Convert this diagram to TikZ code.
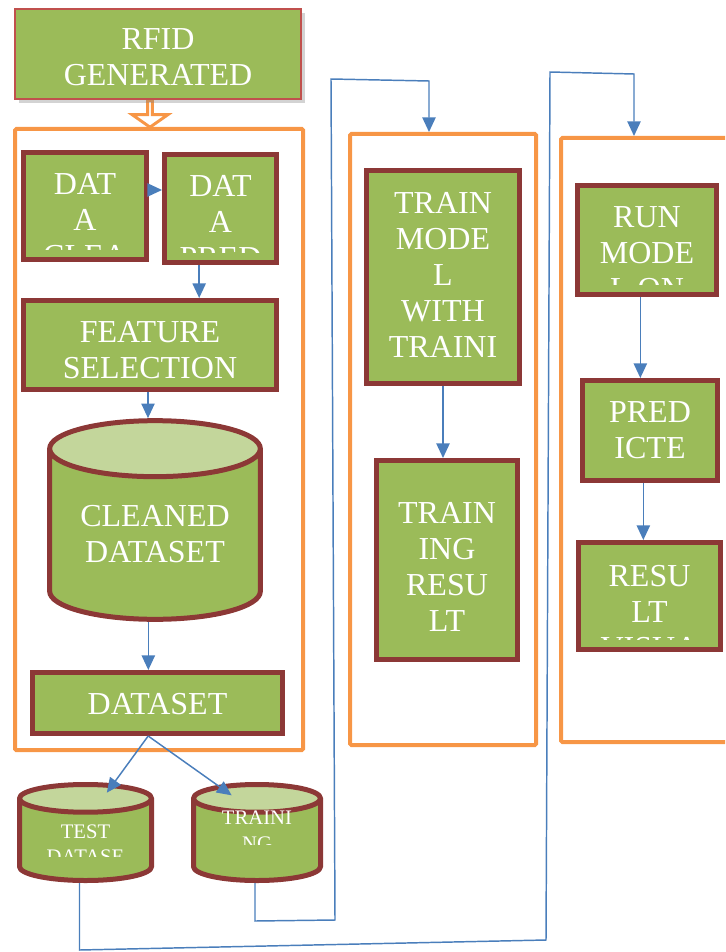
\documentclass[tikz,border=0pt]{standalone}
\usepackage{fontspec}
\setmainfont{Liberation Serif}
\usetikzlibrary{shapes.geometric,shapes.arrows,arrows.meta,fit,shadows}
\definecolor{leafgreen}{HTML}{9BBB59}
\definecolor{palegreen}{HTML}{C3D69B}
\definecolor{brickred}{HTML}{8C3836}
\definecolor{rimred}{HTML}{C0504D}
\definecolor{stageorange}{HTML}{F79646}
\definecolor{linkblue}{HTML}{4A7EBB}
\tikzset{
  boxtxt/.style={ rectangle, draw=none, fill=none, minimum width=0pt, minimum height=0pt,
    text=white, align=center, inner sep=0pt, font=\fontsize{24}{27}\selectfont }
}
\tikzset{
  cyltxt/.style={ boxtxt, font=\fontsize{15.5}{19}\selectfont }
}
\tikzset{
  procbox/.style={ draw=brickred, line width=3.75pt, fill=leafgreen, inner sep=0pt }
}
\tikzset{
  rfidbox/.style={ draw=rimred, line width=1.2pt, fill=leafgreen, inner sep=0pt,
    drop shadow={shadow xshift=3pt, shadow yshift=-3pt, opacity=0.35} }
}
\tikzset{
  stage/.style={ draw=stageorange, line width=3pt, inner sep=0pt, rounded corners=1pt }
}
\tikzset{
  store/.style={ cylinder, shape border rotate=90, draw=brickred, line width=3.75pt, anchor=shape center,
    cylinder uses custom fill, cylinder body fill=leafgreen, cylinder end fill=palegreen }
}
% text from the top of its box; what runs out is cut a little above the lower border
\tikzset{
  boxtext/.style n args={3}{ path picture={
    \clip ([yshift=#3]path picture bounding box.south west) rectangle (path picture bounding box.north east);
    \node[boxtxt, anchor=north] at ([yshift=-#2]path picture bounding box.north) {#1};
  } }
}
\tikzset{
  flow/.style={ draw=linkblue, line width=1.1pt, -{Triangle[width=10pt,length=11pt]} }
}

\begin{document}
\begin{tikzpicture}[x=0.75pt, y=-0.75pt]
      \path[use as bounding box, clip] (0,0) rectangle (725,952);
      % the three stages
      \node[stage, fit={(15,129) (303,750)}] (prepstage) {};
      \node[stage, fit={(350,134) (536,745)}] (trainstage) {};
      \node[stage, fit={(561,138) (745,742)}] (runstage) {};
      \node[single arrow, draw=stageorange, fill=white, line width=2.2pt, shape border rotate=270,
        minimum height=20pt, minimum width=27pt, single arrow head extend=7pt,
        single arrow tip angle=110, inner sep=0pt] (intake) at (150,113) {};
      \node[rfidbox, minimum width=214.5pt, minimum height=67.5pt, boxtext={RFID\\GENERATED}{14pt}{0pt}] (rfid) at (158,54) {};
      % data preparation
      \node[procbox, minimum width=92.25pt, minimum height=80.25pt, boxtext={DAT\\A\\CLEA}{13.5pt}{7.5pt}] (clean) at (85,206) {};
      \node[procbox, minimum width=84pt, minimum height=81pt, boxtext={DAT\\A\\PRED}{13.5pt}{7.5pt}] (prep) at (220.5,208.5) {};
      \node[procbox, minimum width=189.75pt, minimum height=66.75pt, boxtext={FEATURE\\SELECTION}{13.5pt}{0pt}] (feature) at (150,345) {};
      \node[store, minimum width=158pt, minimum height=149pt, inner sep=30pt, aspect=0.7] (cleaned) at (155,520) {};
      \node[boxtxt, anchor=north] (cleanedlabel) at ([yshift=-65pt]cleaned.top) {CLEANED\\DATASET};
      \node[procbox, minimum width=187.5pt, minimum height=45.75pt, boxtext={DATASET}{14pt}{0pt}] (dataset) at (157.5,703) {};
      \node[store, minimum width=99pt, minimum height=72pt, inner sep=20pt, aspect=0.52] (testset) at (85.5,832.5) {};
      \begin{scope}
        \clip (19,800) rectangle (152,856);
        \node[cyltxt, anchor=north] (testlabel) at ([yshift=-32pt]testset.top) {TEST\\DATASE};
      \end{scope}
      \node[store, minimum width=95.25pt, minimum height=72pt, inner sep=20pt, aspect=0.52] (trainset) at (257,832.5) {};
      \begin{scope}
        \clip (194,795) rectangle (320,844);
        \node[cyltxt, anchor=north] (trainlabel) at ([yshift=-21.75pt]trainset.top) {TRAINI\\NG};
      \end{scope}
      % training
      \node[procbox, minimum width=114.75pt, minimum height=159.4pt, boxtext={TRAIN\\MODE\\L\\WITH\\TRAINI}{14.25pt}{0pt}] (trainmodel) at (443,276.75) {};
      \node[procbox, minimum width=105.75pt, minimum height=149.25pt, boxtext={TRAIN\\ING\\RESU\\LT}{29.5pt}{0pt}] (trainres) at (447,560) {};
      % running
      \node[procbox, minimum width=104.25pt, minimum height=81.75pt, boxtext={RUN\\MODE\\L ON}{14.25pt}{7.5pt}] (runmodel) at (647,240) {};
      \node[procbox, minimum width=101.25pt, minimum height=75pt, boxtext={PRED\\ICTE}{14.25pt}{7.5pt}] (predict) at (650,430.5) {};
      \node[procbox, minimum width=106.5pt, minimum height=80.25pt, boxtext={RESU\\LT\\VISUA}{15pt}{7.5pt}] (result) at (649.5,596) {};
      % connectors
      \draw[flow] ([yshift=12pt]clean.east) -- ([yshift=12pt]clean.east -| prep.west);
      \draw[flow] ([xshift=-16pt]prep.south) -- ([xshift=-16pt]prep.south |- feature.north);
      \draw[flow] ([xshift=-1.5pt]feature.south) -- ([xshift=-1.5pt]feature.south |- cleaned.top);
      \draw[flow] ([xshift=-5pt]cleaned.bottom) -- ([xshift=-5pt]cleaned.bottom |- dataset.north);
      \draw[flow] ([xshift=-7pt]dataset.south) -- ([shift={(16pt,-8pt)}]testset.top);
      \draw[flow] ([xshift=-7pt]dataset.south) -- ([shift={(-19pt,-10pt)}]trainset.top);
      \draw[flow] (trainmodel.south) -- (trainmodel.south |- trainres.north);
      \draw[flow] ([xshift=-5pt]runmodel.south) -- ([xshift=-5pt]runmodel.south |- predict.north);
      \draw[flow] ([xshift=-5pt]predict.south) -- ([xshift=-5pt]predict.south |- result.north);
      \coordinate (traindrop) at (255,921);
      \coordinate (midlow) at (335,920);
      \coordinate (midtop) at (331,79);
      \coordinate (midright) at (429,81);
      \draw[flow] ([xshift=-1.5pt]trainset.bottom) -- (traindrop) -- (midlow) -- (midtop) -- (midright) -- (midright |- trainstage.north);
      \coordinate (testdrop) at (79.5,950);
      \coordinate (farlow) at (546,940);
      \coordinate (fartop) at (550,72);
      \coordinate (farright) at (634,74);
      \draw[flow] ([xshift=-4.5pt]testset.bottom) -- (testdrop) -- (farlow) -- (fartop) -- (farright) -- (farright |- runstage.north);
\end{tikzpicture}
\end{document}
